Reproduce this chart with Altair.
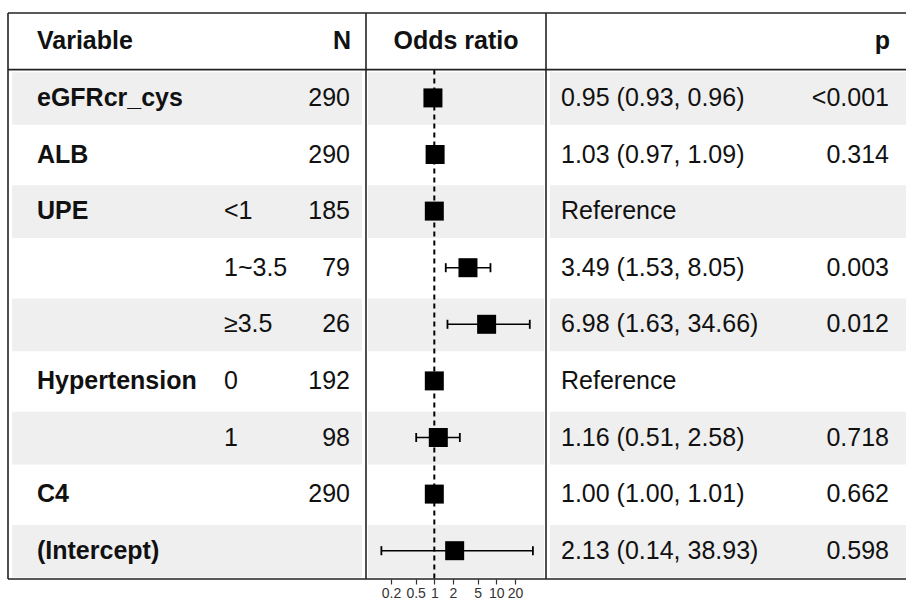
import altair as alt
import pandas as pd

# Model terms, one entry per table row (top to bottom)
variables = ["eGFRcr_cys", "ALB", "UPE", "", "", "Hypertension", "", "C4", "(Intercept)"]
levels = ["", "", "<1", "1~3.5", "≥3.5", "0", "1", "", ""]
n_obs = ["290", "290", "185", "79", "26", "192", "98", "290", ""]
estimate = [0.95, 1.03, 1.00, 3.49, 6.98, 1.00, 1.16, 1.00, 2.13]
ci_low = [0.93, 0.97, None, 1.53, 1.63, None, 0.51, 1.00, 0.14]
ci_high = [0.96, 1.09, None, 8.05, 34.66, None, 2.58, 1.01, 38.93]
p_values = ["<0.001", "0.314", "", "0.003", "0.012", "", "0.718", "0.662", "0.598"]
is_reference = [False, False, True, False, False, True, False, False, False]

headers = ["Variable", "N", "Odds ratio", "p"]
axis_ticks = [0.2, 0.5, 1, 2, 5, 10, 20]

FONT = "Liberation Sans"
FS = 25
INK = "#111111"
BAND = "#EFEFEF"
LINE = "#222222"

rows = list(range(1, len(variables) + 1))
est_label = [
    "Reference" if ref else f"{e:.2f} ({lo:.2f}, {hi:.2f})"
    for e, lo, hi, ref in zip(estimate, ci_low, ci_high, is_reference)
]

df = pd.DataFrame({
    "row": rows,
    "variable": variables,
    "level": levels,
    "n": n_obs,
    "estimate": estimate,
    "ci_low": ci_low,
    "ci_high": ci_high,
    "est_label": est_label,
    "p": p_values,
})
df_ci = df.dropna(subset=["ci_low", "ci_high"]).copy()
df_ci["cap_top"] = df_ci["row"] - 0.08
df_ci["cap_bot"] = df_ci["row"] + 0.08

df_band = df[df["row"] % 2 == 1].copy()
df_band["top"] = df_band["row"] - 0.455
df_band["bot"] = df_band["row"] + 0.475

yscale = alt.Scale(domain=[-0.5, 9.5], reverse=True, nice=False, zero=False)
xscale = alt.Scale(type="log", domain=[0.0791, 63.3], range=[358, 538], nice=False, zero=False)
xaxis = alt.Axis(values=axis_ticks, title=None, grid=False, domain=False, format="~g",
                 labelFontSize=14, labelFont=FONT, labelColor="#333333",
                 tickColor="#333333", tickSize=5, tickWidth=1.2, labelPadding=2,
                 labelOverlap=False, labelFlush=False, labelBound=False)


def Y(field):
    return alt.Y(field, type="quantitative", scale=yscale, axis=None)


def X(field):
    return alt.X(field, type="quantitative", scale=xscale, axis=xaxis)


base = alt.Chart(df)

# zebra bands, split into the three table panels
band_layers = [
    alt.Chart(df_band).mark_rect(color=BAND).encode(
        x=alt.value(x0), x2=alt.value(x1), y=Y("top"), y2="bot")
    for x0, x1 in [(4, 354), (360, 536), (542, 898)]
]

# frame lines
frame = alt.Data(values=[{"k": 0}])
hlines = [
    alt.Chart(frame).mark_rule(color=LINE, strokeWidth=1.6).encode(
        x=alt.value(0), x2=alt.value(898), y=alt.Y(datum=yv, scale=yscale, axis=None))
    for yv in [-0.5, 0.5, 9.5]
]
vlines = [
    alt.Chart(frame).mark_rule(color=LINE, strokeWidth=1.6).encode(
        x=alt.value(xv), y=alt.Y(datum=-0.5, scale=yscale, axis=None), y2=alt.datum(9.5))
    for xv in [0, 358, 538]
]

# null line at OR = 1
ref_line = alt.Chart(frame).mark_rule(color="black", strokeWidth=2, strokeDash=[5, 4]).encode(
    x=alt.X(datum=1, type="quantitative", scale=xscale, axis=xaxis),
    y=alt.Y(datum=0.5, scale=yscale, axis=None), y2=alt.datum(9.5))

ci_rule = alt.Chart(df_ci).mark_rule(color="black", strokeWidth=1.5).encode(
    x=X("ci_low"), x2="ci_high", y=Y("row"))
cap_lo = alt.Chart(df_ci).mark_rule(color="black", strokeWidth=1.8).encode(
    x=X("ci_low"), y=Y("cap_top"), y2="cap_bot")
cap_hi = alt.Chart(df_ci).mark_rule(color="black", strokeWidth=1.8).encode(
    x=X("ci_high"), y=Y("cap_top"), y2="cap_bot")

points = base.mark_point(shape="square", filled=True, size=361, color="black", opacity=1).encode(
    x=X("estimate"), y=Y("row"))

# table text
def txt(field, x, align, bold=False):
    return base.mark_text(font=FONT, fontSize=FS, color=INK, align=align, baseline="middle",
                          fontWeight="bold" if bold else "normal").encode(
        x=alt.value(x), y=Y("row"), text=alt.Text(field, type="nominal"))


text_layers = [
    txt("variable", 29, "left", bold=True),
    txt("level", 216, "left"),
    txt("n", 342, "right"),
    txt("est_label", 553, "left"),
    txt("p", 881, "right"),
]

hdr_pos = [(29, "left"), (343, "right"), (448, "center"), (882, "right")]
header_layers = [
    alt.Chart(alt.Data(values=[{"label": h}])).mark_text(
        font=FONT, fontSize=FS, fontWeight="bold", color=INK, align=a, baseline="middle").encode(
        x=alt.value(xp), y=alt.Y(datum=0, scale=yscale, axis=None), text="label:N")
    for h, (xp, a) in zip(headers, hdr_pos)
]

chart = alt.layer(
    *band_layers, ref_line, ci_rule, cap_lo, cap_hi, points,
    *hlines, *vlines, *text_layers, *header_layers
).properties(
    width=898, height=566,
    padding={"left": 8, "top": 13, "right": 0, "bottom": 24},
    autosize=alt.AutoSizeParams(type="none"),
    background="white",
).configure_view(strokeOpacity=0)

chart.save("out.html", embed_options={"renderer": "svg", "actions": False})
